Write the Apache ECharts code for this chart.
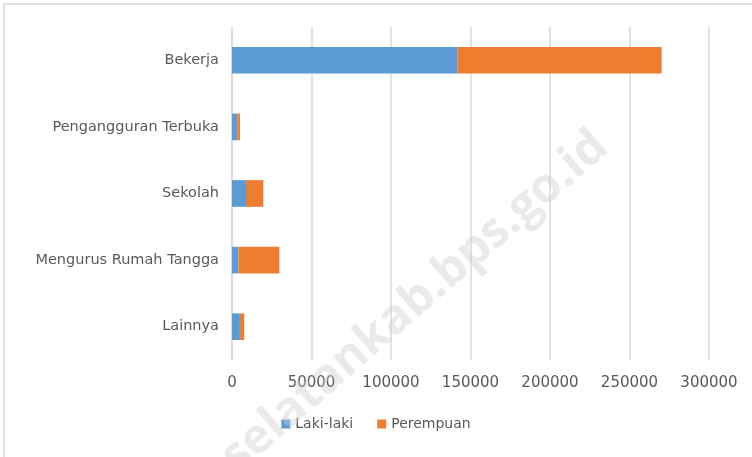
<!DOCTYPE html>
<html>
<head>
<meta charset="utf-8">
<script src="https://cdn.jsdelivr.net/npm/echarts@6/dist/echarts.min.js"></script>
<style>
  html, body { margin: 0; padding: 0; background: #fff; }
  #main { width: 752px; height: 457px; }
</style>
</head>
<body>
<div id="main"></div>
<script>
// data
var categories = ['Bekerja', 'Pengangguran Terbuka', 'Sekolah', 'Mengurus Rumah Tangga', 'Lainnya'];
var lakiLaki = [141700, 3300, 8800, 4000, 5000];
var perempuan = [128500, 1700, 10900, 25800, 2700];
var xTicks = [0, 50000, 100000, 150000, 200000, 250000, 300000];

var dom = document.getElementById('main');
var myChart = echarts.init(dom);

var font = 'DejaVu Sans';
var textColor = '#595959';

var option = {
    animation: false,
    color: ['#5b9bd5', '#ed7d31'],
    grid: { left: 232, right: 43, top: 27, bottom: 97 },
    graphic: [
        {
            type: 'rect',
            shape: { x: 4, y: 4, width: 760, height: 470 },
            style: { fill: 'none', stroke: '#d9d9d9', lineWidth: 1.5 },
            z: -1
        },
        {
            // watermark
            type: 'text',
            x: 415, y: 302,
            rotation: 41 * Math.PI / 180,
            style: {
                text: 'selatankab.bps.go.id',
                font: 'bold 48px "Open Sans"',
                fill: 'rgba(205,205,205,0.42)',
                align: 'center',
                verticalAlign: 'middle'
            },
            z: 100
        }
    ],
    legend: {
        bottom: 21,
        left: 'center',
        itemWidth: 9,
        itemHeight: 9,
        itemGap: 24,
        icon: 'rect',
        textStyle: { color: textColor, fontFamily: font, fontSize: 14 },
        data: ['Laki-laki', 'Perempuan']
    },
    xAxis: {
        type: 'value',
        min: xTicks[0],
        max: xTicks[xTicks.length - 1],
        interval: xTicks[1] - xTicks[0],
        axisLine: { show: false },
        axisTick: { show: false },
        axisLabel: {
            color: textColor, fontFamily: font, fontSize: 15, margin: 16,
            formatter: function (v) { return String(v); }
        },
        splitLine: { lineStyle: { color: '#d9d9d9', width: 1.5 } }
    },
    yAxis: {
        type: 'category',
        inverse: true,
        data: categories,
        axisLine: { show: true, lineStyle: { color: '#d9d9d9', width: 1.5 } },
        axisTick: { show: false },
        axisLabel: { color: textColor, fontFamily: font, fontSize: 14.5, margin: 13 }
    },
    series: [
        {
            name: 'Laki-laki',
            type: 'bar',
            stack: 'total',
            barCategoryGap: '60%',
            data: lakiLaki
        },
        {
            name: 'Perempuan',
            type: 'bar',
            stack: 'total',
            barCategoryGap: '60%',
            data: perempuan
        }
    ]
};

myChart.setOption(option);
</script>
</body>
</html>
